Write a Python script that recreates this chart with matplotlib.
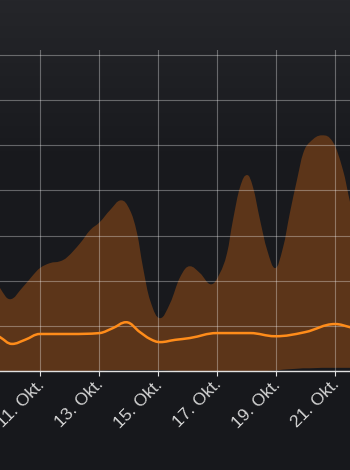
import numpy as np
import matplotlib
matplotlib.use("Agg")
import matplotlib.pyplot as plt
from matplotlib.path import Path
from matplotlib.patches import PathPatch
from matplotlib.transforms import ScaledTranslation

# ---- data (days in October) ----
range_days = [9.40, 9.634, 9.973, 10.41, 10.75, 10.99, 11.33, 11.67, 11.91, 12.35, 12.69,
              13.02, 13.36, 13.74, 14.04, 14.28, 14.48, 14.72, 15.06, 15.40, 15.74,
              16.07, 16.41, 16.79, 17.09, 17.33, 17.53, 17.77, 18.01, 18.21, 18.45,
              18.69, 18.96, 19.23, 19.46, 19.70, 19.91, 20.14, 20.55, 20.92, 21.26,
              21.50, 21.70]
range_high = [2.15, 1.84, 1.59, 1.86, 2.12, 2.28, 2.39, 2.43, 2.52, 2.83, 3.12,
              3.30, 3.56, 3.78, 3.56, 3.05, 2.30, 1.57, 1.17, 1.50, 2.08,
              2.32, 2.17, 1.92, 2.17, 2.61, 3.34, 4.07, 4.34, 4.07, 3.34,
              2.68, 2.28, 2.74, 3.50, 4.23, 4.82, 5.07, 5.22, 5.07, 4.45,
              3.74, 3.20]
range_low = [0.0, 0.0, 0.0, 0.0, 0.0, 0.0, 0.0, 0.0, 0.0, 0.0, 0.0,
             0.01, 0.02, 0.02, 0.02, 0.02, 0.02, 0.02, 0.02, 0.01, 0.0,
             0.0, 0.0, 0.0, 0.0, 0.0, 0.0, 0.0, 0.0, 0.0, 0.0,
             0.0, 0.01, 0.03, 0.04, 0.05, 0.06, 0.06, 0.07, 0.07, 0.07,
             0.07, 0.07]

line_days = [9.40, 9.634, 10.04, 10.48, 10.99, 12.01, 13.02, 13.46, 13.91, 14.38, 14.72,
             15.06, 15.57, 16.07, 16.99, 18.11, 18.96, 19.97, 20.99, 21.50, 21.70]
line_values = [0.85, 0.75, 0.60, 0.69, 0.82, 0.82, 0.84, 0.95, 1.08, 0.86, 0.71,
               0.64, 0.69, 0.73, 0.84, 0.84, 0.77, 0.86, 1.04, 0.97, 0.93]

tick_days = [11, 13, 15, 17, 19, 21]
tick_labels = ["11. Okt.", "13. Okt.", "15. Okt.", "17. Okt.", "19. Okt.", "21. Okt."]
y_ticks = [0, 1, 2, 3, 4, 5, 6, 7]


def spline_path(xs, ys):
    """Highcharts-style smooth spline through the points (cubic Bezier)."""
    n = len(xs)
    s, d = 1.5, 2.5
    lc, rc = [None] * n, [None] * n
    for i in range(n):
        x, y = xs[i], ys[i]
        if 0 < i < n - 1:
            lx, ly = xs[i - 1], ys[i - 1]
            nx, ny = xs[i + 1], ys[i + 1]
            lcx, lcy = (s * x + lx) / d, (s * y + ly) / d
            rcx, rcy = (s * x + nx) / d, (s * y + ny) / d
            corr = 0.0
            if rcx != lcx:
                corr = (rcy - lcy) * (rcx - x) / (rcx - lcx) + y - rcy
            lcy += corr
            rcy += corr
            if lcy > ly and lcy > y:
                lcy = max(ly, y); rcy = 2 * y - lcy
            elif lcy < ly and lcy < y:
                lcy = min(ly, y); rcy = 2 * y - lcy
            if rcy > ny and rcy > y:
                rcy = max(ny, y); lcy = 2 * y - rcy
            elif rcy < ny and rcy < y:
                rcy = min(ny, y); lcy = 2 * y - rcy
            lc[i], rc[i] = (lcx, lcy), (rcx, rcy)
        else:
            lc[i], rc[i] = (x, y), (x, y)
    verts = [(xs[0], ys[0])]
    codes = [Path.MOVETO]
    for i in range(1, n):
        verts += [rc[i - 1], lc[i], (xs[i], ys[i])]
        codes += [Path.CURVE4] * 3
    return verts, codes


fig = plt.figure(figsize=(3.5, 4.7), dpi=100)
fig.patch.set_facecolor("#17181c")

# background gradient
bg = fig.add_axes([0, 0, 1, 1], zorder=-1)
H = 470
top = np.array([0x25, 0x26, 0x2a]) / 255.0
mid = np.array([0x19, 0x1a, 0x1e]) / 255.0
bot = np.array([0x17, 0x18, 0x1c]) / 255.0
rows = np.zeros((H, 1, 3))
for r in range(H):
    if r < 150:
        t = r / 150.0
        rows[r, 0] = top * (1 - t) + mid * t
    else:
        t = (r - 150) / (H - 150.0)
        rows[r, 0] = mid * (1 - t) + bot * t
bg.imshow(rows, aspect="auto", extent=[0, 1, 0, 1], origin="upper")
bg.axis("off")

ax = fig.add_axes([0, 99 / 470, 1, (371 - 50) / 470])
ax.set_facecolor("none")

# area range
uv, uc = spline_path(range_days, range_high)
lv = list(zip(range_days[::-1], range_low[::-1]))
verts = uv + lv + [uv[0]]
codes = uc + [Path.LINETO] * len(lv) + [Path.CLOSEPOLY]
ax.add_patch(PathPatch(Path(verts, codes), facecolor="#5c3519", edgecolor="none",
                       zorder=1))

# line
lvv, lcc = spline_path(line_days, line_values)
ax.add_patch(PathPatch(Path(lvv, lcc), facecolor="none", edgecolor="#ff8c1a",
                       lw=1.8, zorder=3, capstyle="round", joinstyle="round"))

ax.set_xlim(9.634, 21.498)
ax.set_ylim(0, 7.11)
ax.set_yticks(y_ticks)
ax.set_xticks(tick_days)
ax.set_xticklabels(tick_labels, rotation=45, ha="right", rotation_mode="anchor",
                   va="center", color="#d4d4d4", fontsize=12.5,
                   family=["Liberation Sans", "DejaVu Sans"])
ax.grid(True, color="white", alpha=0.33, lw=0.8, zorder=2)
ax.set_axisbelow(False)
for sp in ["top", "left", "right"]:
    ax.spines[sp].set_visible(False)
ax.spines["bottom"].set_color("#e0e0e0")
ax.spines["bottom"].set_linewidth(1.0)
ax.spines["bottom"].set_zorder(4)
ax.tick_params(axis="y", left=False, labelleft=False)
ax.tick_params(axis="x", color="#e0e0e0", length=3.6, width=0.8, pad=3)
for lab in ax.get_xticklabels():
    lab.set_transform(lab.get_transform() + ScaledTranslation(2 / 100, -2 / 100, fig.dpi_scale_trans))

fig.savefig("out.png", dpi=100, facecolor=fig.get_facecolor())
